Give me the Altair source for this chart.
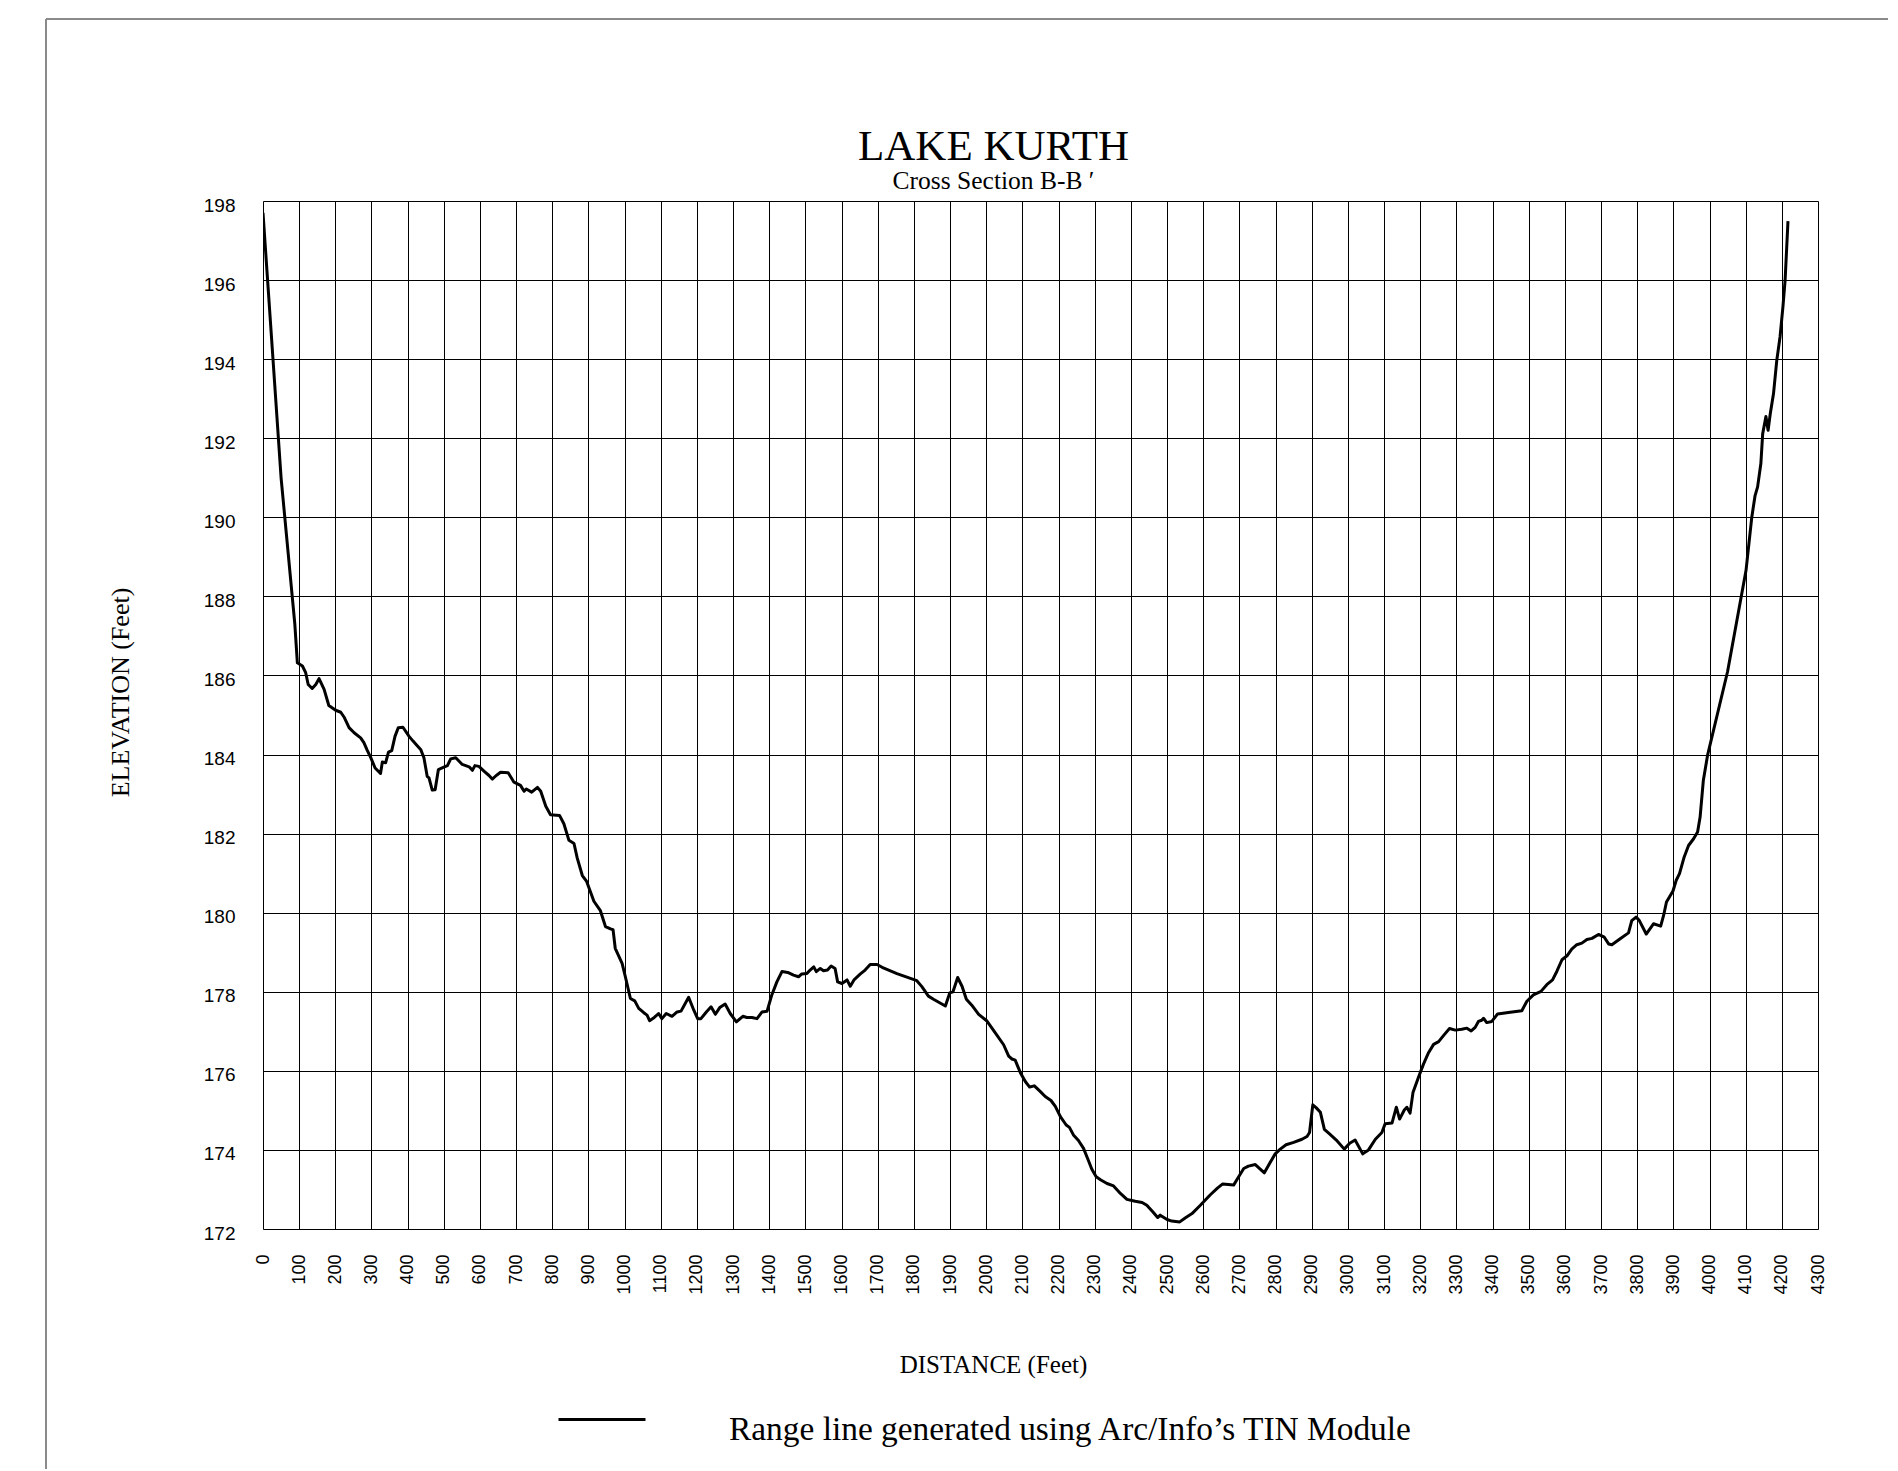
import altair as alt
import pandas as pd

TITLE = "LAKE KURTH"
SUBTITLE = "Cross Section B-B \u2032"
X_TITLE = "DISTANCE (Feet)"
Y_TITLE = "ELEVATION (Feet)"
SERIES = "Range line generated using Arc/Info\u2019s TIN Module"

distance = [
    0, 50, 88, 95, 109, 118, 125, 136, 146, 155, 169, 182, 201, 215, 224, 238, 252, 270, 279, 288,
    298, 310, 325, 330, 339, 347, 356, 365, 374, 387, 404, 415, 424, 436, 445, 454, 459, 468, 476, 485,
    500, 510, 519, 533, 551, 570, 579, 586, 597, 611, 625, 634, 645, 657, 678, 694, 712, 722, 728, 743,
    759, 768, 782, 795, 820, 832, 846, 860, 869, 883, 895, 915, 933, 947, 961, 968, 974, 993, 1002, 1016,
    1028, 1039, 1053, 1062, 1069, 1082, 1094, 1103, 1115, 1131, 1145, 1156, 1177, 1191, 1202, 1211, 1226, 1239, 1251, 1263,
    1278, 1292, 1309, 1327, 1338, 1352, 1366, 1380, 1394, 1407, 1421, 1435, 1451, 1467, 1481, 1490, 1504, 1513, 1523, 1530,
    1541, 1550, 1561, 1571, 1582, 1589, 1601, 1615, 1624, 1635, 1652, 1665, 1679, 1698, 1712, 1753, 1808, 1822, 1840, 1854,
    1887, 1899, 1908, 1921, 1933, 1945, 1960, 1979, 2002, 2025, 2048, 2062, 2071, 2080, 2094, 2108, 2120, 2133, 2149, 2163,
    2179, 2191, 2205, 2221, 2230, 2241, 2255, 2269, 2280, 2292, 2304, 2317, 2334, 2352, 2371, 2389, 2412, 2431, 2444, 2461,
    2474, 2481, 2500, 2513, 2535, 2550, 2569, 2592, 2619, 2640, 2654, 2684, 2698, 2712, 2725, 2744, 2769, 2785, 2799, 2813,
    2829, 2850, 2873, 2887, 2894, 2903, 2912, 2924, 2935, 2950, 2968, 2990, 3005, 3020, 3041, 3057, 3076, 3094, 3103, 3122,
    3134, 3143, 3156, 3163, 3172, 3180, 3195, 3209, 3223, 3237, 3251, 3266, 3281, 3297, 3315, 3329, 3341, 3352, 3361, 3370,
    3375, 3384, 3398, 3414, 3449, 3481, 3495, 3513, 3534, 3550, 3566, 3578, 3592, 3606, 3619, 3633, 3647, 3661, 3675, 3693,
    3709, 3721, 3730, 3753, 3776, 3785, 3797, 3806, 3825, 3845, 3865, 3873, 3881, 3899, 3908, 3917, 3930, 3942, 3956, 3967,
    3974, 3983, 3995, 4050, 4101, 4117, 4126, 4133, 4142, 4147, 4156, 4162, 4168, 4177, 4186, 4195, 4203, 4209, 4217,
]

elevation = [
    197.7, 191.0, 187.3, 186.32, 186.24, 186.07, 185.77, 185.67, 185.77, 185.92, 185.65, 185.24, 185.12, 185.07, 184.95, 184.68, 184.55, 184.42, 184.30, 184.11,
    183.92, 183.66, 183.52, 183.81, 183.79, 184.06, 184.10, 184.46, 184.68, 184.69, 184.46, 184.34, 184.25, 184.13, 183.92, 183.45, 183.41, 183.10, 183.11, 183.62,
    183.68, 183.72, 183.89, 183.92, 183.75, 183.69, 183.60, 183.72, 183.70, 183.58, 183.47, 183.38, 183.47, 183.55, 183.54, 183.30, 183.22, 183.07, 183.13, 183.05,
    183.17, 183.07, 182.69, 182.48, 182.46, 182.25, 181.83, 181.75, 181.38, 180.94, 180.79, 180.29, 180.05, 179.65, 179.59, 179.57, 179.10, 178.72, 178.38, 177.83,
    177.77, 177.58, 177.47, 177.41, 177.27, 177.35, 177.45, 177.32, 177.45, 177.38, 177.49, 177.51, 177.86, 177.54, 177.32, 177.32, 177.49, 177.62, 177.43, 177.60,
    177.69, 177.45, 177.24, 177.38, 177.35, 177.35, 177.32, 177.49, 177.51, 177.92, 178.25, 178.51, 178.49, 178.42, 178.38, 178.45, 178.46, 178.55, 178.63, 178.51,
    178.59, 178.53, 178.55, 178.65, 178.59, 178.25, 178.21, 178.30, 178.14, 178.31, 178.45, 178.55, 178.69, 178.69, 178.62, 178.46, 178.28, 178.13, 177.89, 177.81,
    177.64, 177.97, 178.00, 178.36, 178.14, 177.81, 177.66, 177.43, 177.26, 176.96, 176.66, 176.37, 176.30, 176.27, 175.96, 175.73, 175.59, 175.62, 175.48, 175.35,
    175.25, 175.10, 174.84, 174.63, 174.57, 174.38, 174.24, 174.04, 173.79, 173.51, 173.32, 173.24, 173.15, 173.09, 172.90, 172.75, 172.70, 172.67, 172.60, 172.43,
    172.29, 172.35, 172.24, 172.20, 172.18, 172.28, 172.39, 172.60, 172.86, 173.04, 173.14, 173.11, 173.32, 173.53, 173.59, 173.63, 173.42, 173.68, 173.90, 174.02,
    174.13, 174.19, 174.27, 174.34, 174.44, 175.14, 175.07, 174.95, 174.52, 174.40, 174.25, 174.02, 174.17, 174.25, 173.90, 174.00, 174.27, 174.44, 174.66, 174.68,
    175.08, 174.78, 175.01, 175.08, 174.93, 175.45, 175.83, 176.17, 176.46, 176.67, 176.74, 176.91, 177.07, 177.03, 177.05, 177.08, 177.01, 177.10, 177.25, 177.28,
    177.33, 177.22, 177.25, 177.44, 177.48, 177.52, 177.76, 177.92, 178.01, 178.18, 178.30, 178.52, 178.81, 178.91, 179.08, 179.19, 179.23, 179.32, 179.35, 179.45,
    179.38, 179.21, 179.19, 179.34, 179.49, 179.80, 179.89, 179.80, 179.46, 179.72, 179.66, 179.93, 180.27, 180.55, 180.82, 180.99, 181.41, 181.70, 181.87, 182.04,
    182.42, 183.35, 184.0, 186.1, 188.66, 190.01, 190.55, 190.77, 191.36, 192.11, 192.55, 192.20, 192.62, 193.13, 193.97, 194.56, 195.32, 195.99, 197.49,
]

x_ticks = list(range(0, 4301, 100))
y_ticks = list(range(172, 199, 2))

df = pd.DataFrame({"distance": distance, "elevation": elevation, "series": SERIES})

line = alt.Chart(df).mark_line(strokeWidth=3, strokeJoin="round", clip=True).encode(
    x=alt.X(
        "distance:Q",
        scale=alt.Scale(domain=[0, 4300], nice=False, zero=False),
        axis=alt.Axis(
            values=x_ticks, format="d", title=X_TITLE, labelAngle=270,
            labelFont="Liberation Sans", labelFontSize=18, labelColor="black",
            labelPadding=25, ticks=False, domain=False,
            grid=True, gridColor="black", gridWidth=1, gridOpacity=1, labelFlush=False,
            labelOverlap=False, titleFont="Liberation Serif", titleFontSize=25,
            titleFontWeight="normal", titleColor="black", titleX=730, titleY=143,
            titleAlign="center", titleBaseline="alphabetic",
        ),
    ),
    y=alt.Y(
        "elevation:Q",
        scale=alt.Scale(domain=[172, 198], nice=False, zero=False),
        axis=alt.Axis(
            values=y_ticks, title=Y_TITLE, labelFont="Liberation Sans", labelFontSize=19,
            labelColor="black", labelPadding=28, labelOffset=4, ticks=False, domain=False,
            grid=True, gridColor="black", gridWidth=1, gridOpacity=1, labelFlush=False,
            labelOverlap=False, titleFont="Liberation Serif", titleFontSize=26,
            titleFontWeight="normal", titleColor="black", titleAngle=270, titleX=-135,
            titleY=491, titleAlign="center", titleBaseline="alphabetic",
        ),
    ),
    stroke=alt.Stroke(
        "series:N",
        scale=alt.Scale(range=["black"]),
        legend=alt.Legend(
            title=None, orient="none", legendX=294, legendY=1184,
            symbolType="M-1,-0.24H1", symbolSize=7569, symbolStrokeWidth=3,
            labelFont="Liberation Serif", labelFontSize=33.4, labelColor="black",
            labelOffset=82, labelLimit=0, padding=0,
        ),
    ),
)

one = pd.DataFrame({"k": [0]})
frame_top = alt.Chart(one).mark_rule(color="#8a8a8a", strokeWidth=2).encode(
    x=alt.value(-217), x2=alt.value(1700), y=alt.value(-182)
)
frame_left = alt.Chart(one).mark_rule(color="#8a8a8a", strokeWidth=2).encode(
    x=alt.value(-217), y=alt.value(-182), y2=alt.value(1300)
)

chart = alt.layer(line, frame_top, frame_left).properties(
    width=1555,
    height=1028,
    autosize=alt.AutoSizeParams(type="none"),
    padding={"left": 255, "top": 193, "right": 70, "bottom": 240},
    title=alt.TitleParams(
        text=TITLE, subtitle=SUBTITLE, font="Liberation Serif", fontSize=43,
        fontWeight="normal", color="black", subtitleFont="Liberation Serif",
        subtitleFontSize=25.5, subtitleColor="black", subtitlePadding=0,
        anchor="middle", frame="group", dx=-47, offset=-176,
    ),
).configure_view(stroke="black", strokeWidth=3).configure(background="white")

chart.save("out.html", embed_options={"renderer": "svg", "actions": False})
